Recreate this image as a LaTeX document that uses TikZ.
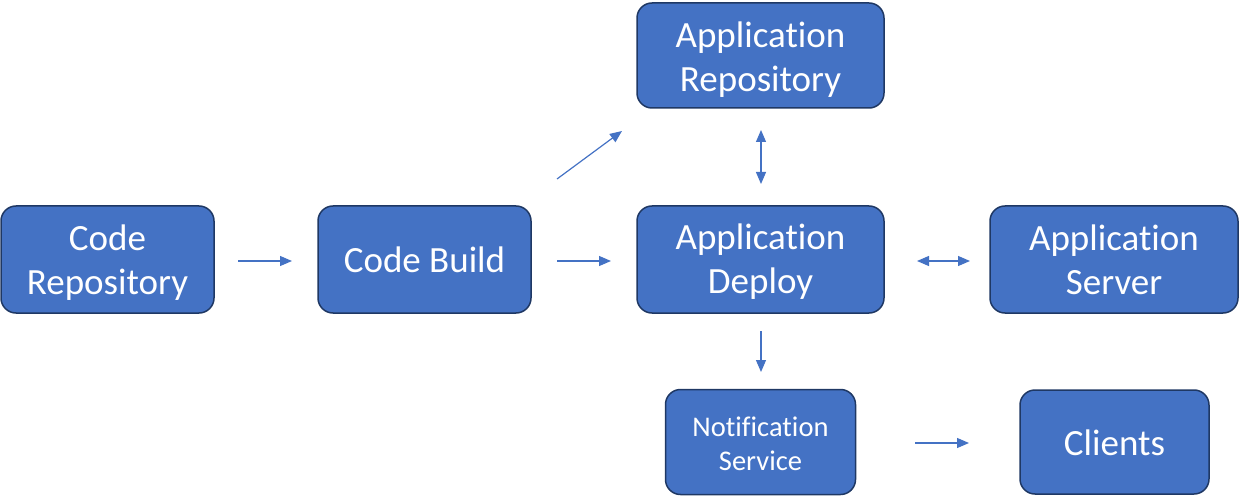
\documentclass[tikz,border=0pt]{standalone}
\usepackage{fontspec}
\setmainfont{Carlito}[Ligatures={NoCommon,NoContextual,NoRequired},Contextuals=NoAlternate]
\usetikzlibrary{arrows.meta}
\definecolor{boxfill}{HTML}{4472C4}
\definecolor{boxline}{HTML}{1F3864}
\definecolor{arrowcol}{HTML}{4472C4}
\newcommand{\boxtext}[2][2.5pt]{\raisebox{-#1}[\height][\depth]{\begin{tabular}{@{}c@{}}#2\end{tabular}}}
\newcommand{\tinolig}{t\kern0pt i}
\begin{document}
\begin{tikzpicture}[x=1pt,y=-1pt,
  box/.style={draw=boxline, line width=1.5pt, fill=boxfill, rounded corners=15pt,
    text=white, align=center, inner sep=0pt, font=\fontsize{37}{44}\selectfont},
  smallbox/.style={box, font=\fontsize{28.5}{34.5}\selectfont},
  conn/.style={draw=arrowcol, line width=1.2pt, -{Triangle[length=12pt,width=10pt]}},
  biconn/.style={draw=arrowcol, line width=1.2pt, {Triangle[length=12pt,width=10pt]}-{Triangle[length=12pt,width=10pt]}}]
\useasboundingbox (0,0) rectangle (1239,497);
\node[box, minimum width=213pt, minimum height=107pt] (cr) at (107.5,259.5) {\boxtext[4pt]{Code\\Repository}};
\node[box, minimum width=213pt, minimum height=107pt] (cb) at (424.5,259.5) {\boxtext[4.5pt]{Code Build}};
\node[box, minimum width=247pt, minimum height=105pt] (ar) at (760.5,55.5) {\boxtext[5pt]{Applica\tinolig on\\Repository}};
\node[box, minimum width=247pt, minimum height=107pt] (ad) at (760.5,259.5) {\boxtext[3.5pt]{Applica\tinolig on\\Deploy}};
\node[box, minimum width=248pt, minimum height=107pt] (as) at (1114,259.5) {\boxtext[4pt]{Applica\tinolig on\\Server}};
\node[smallbox, minimum width=190pt, minimum height=105pt] (ns) at (760.5,442) {\boxtext[4.5pt]{Notifica\tinolig on\\Service}};
\node[box, minimum width=189pt, minimum height=104pt] (cl) at (1114.5,442) {\boxtext[4.5pt]{Clients}};
% free connector ends
\coordinate (a1s) at (238,261); \coordinate (a1e) at (292,261);
\coordinate (a2s) at (557,261); \coordinate (a2e) at (611,261);
\coordinate (a3s) at (557,179); \coordinate (a3e) at (622,131);
\coordinate (a4s) at (761,130); \coordinate (a4e) at (761,184);
\coordinate (a5s) at (917,261); \coordinate (a5e) at (970,261);
\coordinate (a6s) at (761,331); \coordinate (a6e) at (761,372);
\coordinate (a7s) at (915,443); \coordinate (a7e) at (969,443);
\draw[conn] (a1s) -- (a1e);
\draw[conn] (a2s) -- (a2e);
\draw[conn] (a3s) -- (a3e);
\draw[biconn] (a4s) -- (a4e);
\draw[biconn] (a5s) -- (a5e);
\draw[conn] (a6s) -- (a6e);
\draw[conn] (a7s) -- (a7e);
\end{tikzpicture}
\end{document}
